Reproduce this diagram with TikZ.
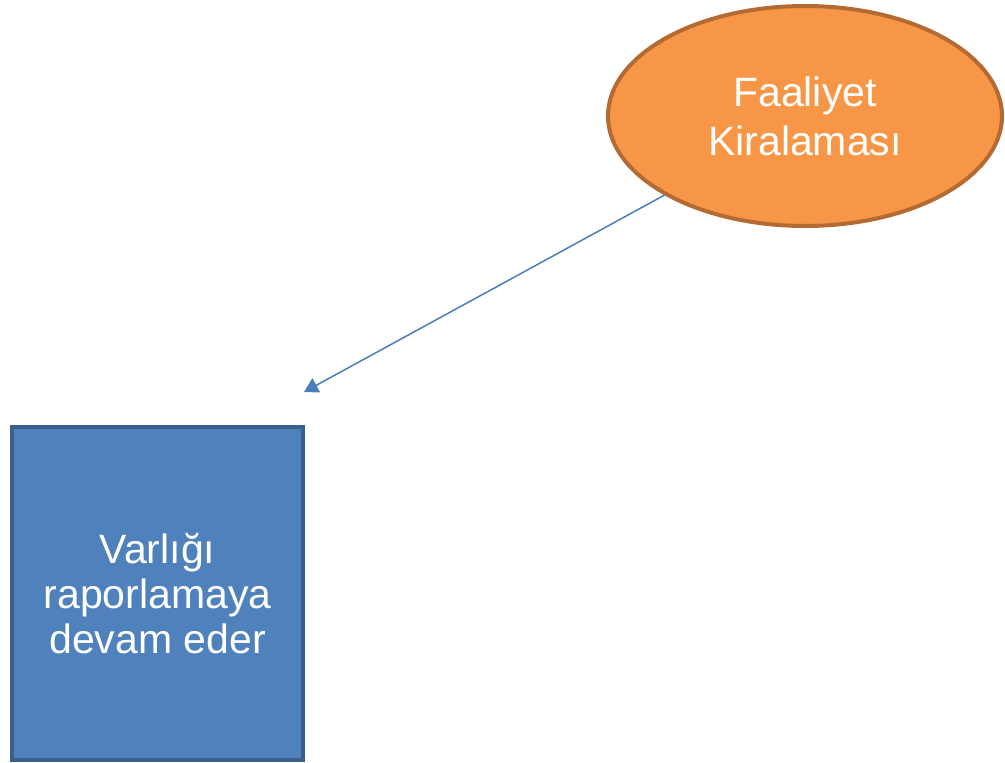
\documentclass[tikz,border=0pt]{standalone}
\usepackage{fontspec}
\setmainfont{Liberation Sans}
\usetikzlibrary{shapes.geometric,arrows.meta}
\definecolor{orfill}{HTML}{F79646}
\definecolor{ordraw}{HTML}{B46B33}
\definecolor{blfill}{HTML}{4F81BD}
\definecolor{bldraw}{HTML}{3A5F8B}
\definecolor{arrowc}{HTML}{4A7EBB}
\tikzset{
  ovalbox/.style={ellipse, fill=orfill, draw=ordraw, line width=4pt, minimum width=394pt, minimum height=220pt, inner sep=0pt, text=white, align=center, font=\fontsize{41}{49}\selectfont},
  squarebox/.style={rectangle, fill=blfill, draw=bldraw, line width=4.5pt, minimum width=291pt, minimum height=333pt, inner sep=0pt, text=white, align=center, font=\fontsize{41}{45}\selectfont},
  conn/.style={draw=arrowc, line width=1.5pt, -{Triangle[length=14pt,width=16pt]}}
}
\begin{document}
\begin{tikzpicture}[x=1pt,y=-1pt]
\useasboundingbox (0,0) rectangle (1005,763);
\node[ovalbox] (lease) at (805,116) {Faaliyet\\Kiralaması};
\node[squarebox] (asset) at (157.5,593.5) {Varlığı\\raporlamaya\\devam eder};
\coordinate (tip) at (304,392);
\draw[conn] (lease.south west) -- (tip);
\end{tikzpicture}
\end{document}
